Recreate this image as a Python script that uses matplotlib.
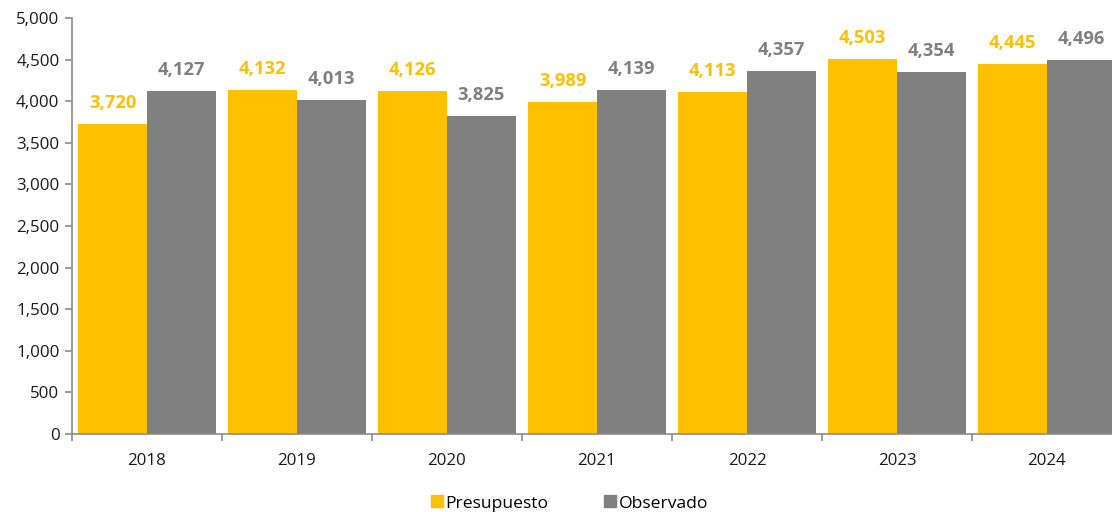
import numpy as np
import matplotlib
matplotlib.use("Agg")
import matplotlib.pyplot as plt
from matplotlib.lines import Line2D

# Budgeted vs. observed values per year
years = ["2018", "2019", "2020", "2021", "2022", "2023", "2024"]
presupuesto = [3720, 4132, 4126, 3989, 4113, 4503, 4445]
observado = [4127, 4013, 3825, 4139, 4357, 4354, 4496]

YELLOW = "#FFC000"
GRAY = "#808080"
AXIS = "#8C8C8C"

plt.rcParams["font.family"] = ["Open Sans", "DejaVu Sans"]

fig = plt.figure(figsize=(11.12, 5.12), dpi=100)
ax = fig.add_axes([72 / 1112, 78 / 512, 1050 / 1112, 416 / 512])

x = np.arange(len(years))
w = 0.457
b1 = ax.bar(x - w / 2, presupuesto, width=w, color=YELLOW, label="Presupuesto")
b2 = ax.bar(x + w / 2, observado, width=w, color=GRAY, label="Observado")

for bars, vals, col in ((b1, presupuesto, YELLOW), (b2, observado, GRAY)):
    for rect, v in zip(bars, vals):
        ax.annotate(f"{v:,}", (rect.get_x() + rect.get_width() / 2, v),
                    xytext=(0, 16), textcoords="offset pixels",
                    ha="center", va="baseline", fontsize=13.2,
                    fontweight="bold", color=col)

ax.set_xlim(-0.5, len(years) - 0.5)
ax.set_ylim(0, 5000)
ax.set_yticks(np.arange(0, 5001, 500))
ax.set_yticklabels([f"{v:,}" for v in range(0, 5001, 500)])

# category labels centred, ticks on category boundaries
ax.set_xticks(x)
ax.set_xticklabels(years)
ax.set_xticks(np.arange(-0.5, len(years), 1.0), minor=True)
ax.tick_params(axis="x", which="major", length=0, pad=14, labelsize=12.2, labelcolor="#1a1a1a")
ax.tick_params(axis="x", which="minor", length=5, width=1.2, color=AXIS, direction="out")
ax.tick_params(axis="y", length=5, width=1.2, color=AXIS, labelsize=12.2, labelcolor="#1a1a1a", pad=4)

for s in ("top", "right"):
    ax.spines[s].set_visible(False)
for s in ("left", "bottom"):
    ax.spines[s].set_color(AXIS)
    ax.spines[s].set_linewidth(1.2)

handles = [
    Line2D([], [], marker="s", linestyle="none", markersize=8, color=YELLOW, label="Presupuesto"),
    Line2D([], [], marker="s", linestyle="none", markersize=8, color=GRAY, label="Observado"),
]
fig.legend(handles=handles, loc="lower center", bbox_to_anchor=(568 / 1112, -0.03),
           ncol=2, frameon=False, fontsize=12.6, handletextpad=0.0,
           columnspacing=3.0, handlelength=1.0)

fig.savefig("out.png", dpi=100)
